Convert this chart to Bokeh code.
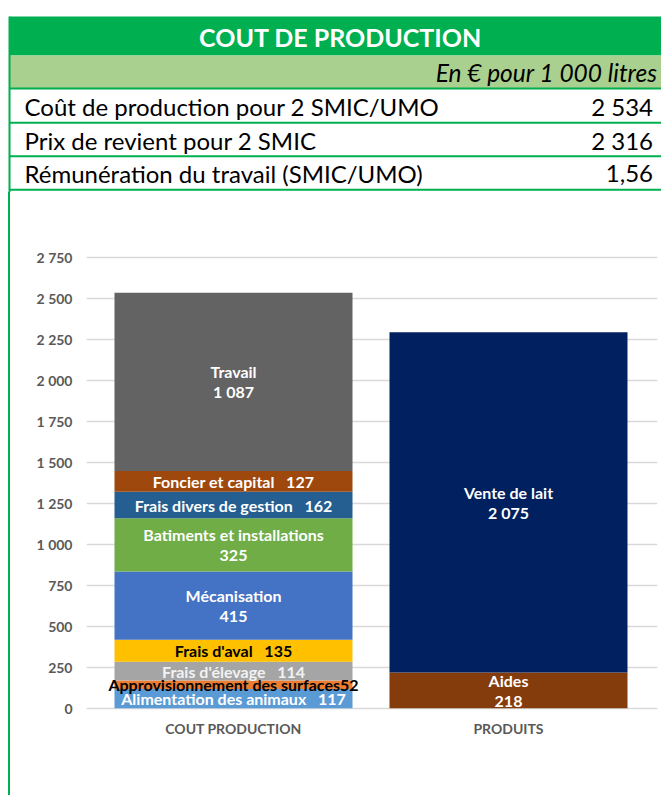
import numpy as np
from bokeh.plotting import figure
from bokeh.models import ColumnDataSource, Range1d, FixedTicker, Div
from bokeh.layouts import column, row
from bokeh.embed import file_html
from bokeh.resources import INLINE
from bokeh.core.properties import value

# ---------------- data ----------------
title = "COUT DE PRODUCTION"
subtitle = "En € pour 1 000 litres"
summary_labels = ["Coût de production pour 2 SMIC/UMO",
                  "Prix de revient pour 2 SMIC",
                  "Rémunération du travail (SMIC/UMO)"]
summary_values = ["2 534", "2 316", "1,56"]

categories = ["COUT PRODUCTION", "PRODUITS"]

cost_items = ["Alimentation des animaux", "Approvisionnement des surfaces",
              "Frais d'élevage", "Frais d'aval", "Mécanisation",
              "Batiments et installations", "Frais divers de gestion",
              "Foncier et capital", "Travail"]
cost_values = [117, 52, 114, 135, 415, 325, 162, 127, 1087]
cost_colors = ["#5B9BD5", "#ED7D31", "#A5A5A5", "#FFC000", "#4472C4",
               "#70AD47", "#255E91", "#9E480E", "#636363"]
cost_text_colors = ["white", "black", "#F2F2F2", "black", "white",
                    "white", "white", "white", "white"]
NB = "\u00a0"
cost_sep = [NB * 3, "", NB * 3, NB * 3, "\n", "\n", NB * 3, NB * 3, "\n"]

product_items = ["Aides", "Vente de lait"]
product_values = [218, 2075]
product_colors = ["#843C0C", "#002060"]
product_text_colors = ["white", "white"]
product_sep = ["\n", "\n"]

y_ticks = [0, 250, 500, 750, 1000, 1250, 1500, 1750, 2000, 2250, 2500, 2750]
y_tick_labels = ["0", "250", "500", "750", "1 000", "1 250", "1 500",
                 "1 750", "2 000", "2 250", "2 500", "2 750"]

GREEN = "#00B050"
LIGHT_GREEN = "#A9D08E"
FONT = "Lato"


def fmt(v):
    return f"{v:,}".replace(",", NB)


def stack_source(xpos, items, values, colors, tcolors, seps):
    vals = np.array(values, dtype=float)
    top = np.cumsum(vals)
    bottom = top - vals
    labels = [f"{it}{s}{fmt(v)}" for it, s, v in zip(items, seps, values)]
    return ColumnDataSource(dict(
        x=[xpos] * len(values), bottom=bottom, top=top,
        mid=(bottom + top) / 2, color=colors, tcolor=tcolors, label=labels))


# ---------------- top table ----------------
TOP_H = 192
top = figure(width=661, height=TOP_H, x_range=Range1d(0, 661),
             y_range=Range1d(TOP_H, 0), output_backend="svg",
             toolbar_location=None, x_axis_location=None,
             y_axis_location=None, min_border=0, outline_line_color=None)
top.xgrid.visible = False
top.ygrid.visible = False

top.quad(left=[9], right=[661], top=[16], bottom=[55], fill_color=GREEN,
         line_color=None)
top.quad(left=[9], right=[661], top=[55], bottom=[88],
         fill_color=LIGHT_GREEN, line_color=None)
top.segment(x0=[9, 9, 9, 9], x1=[661, 661, 661, 661],
            y0=[88, 122.3, 155.7, 189.3], y1=[88, 122.3, 155.7, 189.3],
            line_color=GREEN, line_width=2)
top.segment(x0=[9], x1=[9], y0=[16], y1=[TOP_H], line_color=GREEN,
            line_width=2)

top.text(x=[340], y=[36], text=[title], text_color="white",
         text_font=value(FONT), text_font_style="bold",
         text_font_size="25px", text_align="center", text_baseline="middle")
top.text(x=[657], y=[72], text=[subtitle], text_color="black",
         text_font=value(FONT), text_font_style="italic",
         text_font_size="24.5px", text_align="right", text_baseline="middle")
row_y = [105.5, 139.5, 173]
top.text(x=[24] * 3, y=row_y, text=summary_labels, text_color="black",
         text_font=value(FONT), text_font_size="24px", text_align="left",
         text_baseline="middle")
top.text(x=[652.5] * 3, y=row_y, text=summary_values, text_color="black",
         text_font=value(FONT), text_font_size="24px", text_align="right",
         text_baseline="middle")

# ---------------- left border strip ----------------
CH_H = 795 - TOP_H
strip = Div(text="", width=10, height=CH_H, margin=(0, 0, 0, 0),
            styles={"background": "linear-gradient(to right, transparent 8px, "
                                  + GREEN + " 8px, " + GREEN + " 10px)"})

# ---------------- chart ----------------
PX_PER_UNIT = 0.164
FRAME_H = 460
Y0 = -26.2
BAR_STEP = 275.0
X0 = -147.0 / BAR_STEP
FRAME_W = 571

chart = figure(width=651, height=CH_H,
               x_range=Range1d(X0, X0 + FRAME_W / BAR_STEP),
               y_range=Range1d(Y0, Y0 + FRAME_H / PX_PER_UNIT),
               output_backend="svg", toolbar_location=None,
               min_border_left=76, min_border_right=4, min_border_top=60,
               min_border_bottom=CH_H - 60 - FRAME_H,
               outline_line_color=None)
chart.xgrid.visible = False
chart.ygrid.ticker = FixedTicker(ticks=y_ticks)
chart.ygrid.grid_line_color = "#D9D9D9"
chart.ygrid.grid_line_width = 1.5

BAR_W = 238.0 / BAR_STEP
src_cost = stack_source(0, cost_items, cost_values, cost_colors,
                        cost_text_colors, cost_sep)
src_prod = stack_source(1, product_items, product_values, product_colors,
                        product_text_colors, product_sep)
for src in (src_cost, src_prod):
    chart.vbar(x="x", bottom="bottom", top="top", width=BAR_W,
               fill_color="color", line_color=None, source=src)
    chart.text(x="x", y="mid", text="label", text_color="tcolor",
               text_font=value(FONT), text_font_style="bold",
               text_font_size="16px", text_align="center",
               text_baseline="middle", text_line_height=1.05, source=src)

chart.yaxis.ticker = FixedTicker(ticks=y_ticks)
chart.yaxis.major_label_overrides = dict(zip(y_ticks, y_tick_labels))
chart.yaxis.axis_line_color = None
chart.yaxis.major_tick_line_color = None
chart.yaxis.minor_tick_line_color = None
chart.yaxis.major_tick_out = 0
chart.yaxis.major_label_standoff = 14
chart.yaxis.major_label_text_font = FONT
chart.yaxis.major_label_text_font_style = "bold"
chart.yaxis.major_label_text_font_size = "14px"
chart.yaxis.major_label_text_color = "#595959"

chart.xaxis.ticker = FixedTicker(ticks=[0, 1])
chart.xaxis.major_label_overrides = {i: c for i, c in enumerate(categories)}
chart.xaxis.axis_line_color = None
chart.xaxis.major_tick_line_color = None
chart.xaxis.minor_tick_line_color = None
chart.xaxis.major_tick_out = 0
chart.xaxis.major_label_standoff = 7
chart.xaxis.major_label_text_font = FONT
chart.xaxis.major_label_text_font_style = "bold"
chart.xaxis.major_label_text_font_size = "14px"
chart.xaxis.major_label_text_color = "#595959"

layout = column(top, row(strip, chart))
open("out.html", "w").write(file_html(layout, INLINE))
